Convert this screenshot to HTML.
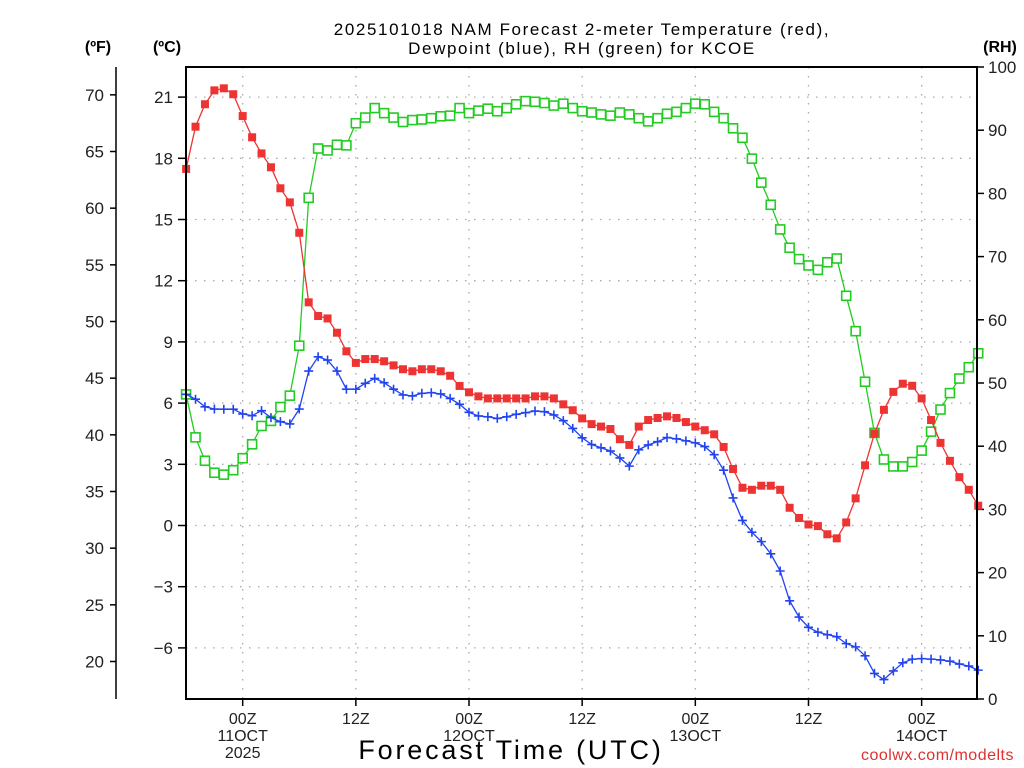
<!DOCTYPE html>
<html><head><meta charset="utf-8"><style>
body{margin:0;background:#fff;}
svg{display:block;font-family:"Liberation Sans",sans-serif;}
</style></head><body>
<svg id="chart" width="1024" height="768" viewBox="0 0 1024 768" xmlns="http://www.w3.org/2000/svg">
<rect width="1024" height="768" fill="#fff"/>
<text x="582" y="35" font-size="17" text-anchor="middle" fill="#000" letter-spacing="1.6">2025101018 NAM Forecast 2-meter Temperature (red),</text>
<text x="582" y="54" font-size="17" text-anchor="middle" fill="#000" letter-spacing="1.6">Dewpoint (blue), RH (green) for KCOE</text>
<text x="98" y="52" font-size="16" font-weight="bold" text-anchor="middle">(ºF)</text>
<text x="167" y="52" font-size="16" font-weight="bold" text-anchor="middle">(ºC)</text>
<text x="1000" y="52" font-size="16" font-weight="bold" text-anchor="middle">(RH)</text>
<text x="511" y="759" font-size="27" text-anchor="middle" letter-spacing="2.8">Forecast Time (UTC)</text>
<text x="1014" y="760" font-size="16" text-anchor="end" fill="#e03030" letter-spacing="0.5">coolwx.com/modelts</text>
<g id="grid"></g><g id="axes"></g><g id="series"></g>
<rect x="186" y="67" width="791" height="632" fill="none" stroke="#000" stroke-width="2"/>
</svg>
<script>
const tempC=[17.48,19.55,20.65,21.33,21.43,21.14,20.07,19.03,18.24,17.56,16.53,15.84,14.35,10.94,10.27,10.15,9.45,8.54,7.97,8.16,8.16,8.05,7.85,7.66,7.56,7.66,7.66,7.56,7.34,6.84,6.53,6.33,6.23,6.23,6.23,6.23,6.23,6.33,6.33,6.23,5.94,5.65,5.25,4.97,4.85,4.73,4.23,3.95,4.85,5.17,5.27,5.35,5.27,5.07,4.85,4.67,4.47,3.85,2.77,1.85,1.75,1.95,1.95,1.75,0.87,0.37,0.05,-0.03,-0.43,-0.63,0.15,1.33,2.95,4.51,5.67,6.55,6.95,6.85,6.23,5.17,4.05,3.17,2.37,1.75,0.97];
const dewC=[6.43,6.19,5.82,5.71,5.7,5.7,5.47,5.38,5.63,5.29,5.09,4.98,5.71,7.57,8.27,8.11,7.57,6.68,6.68,6.97,7.21,7.0,6.68,6.4,6.35,6.48,6.51,6.45,6.23,5.94,5.55,5.37,5.33,5.25,5.33,5.45,5.53,5.61,5.58,5.42,5.14,4.76,4.3,3.97,3.81,3.65,3.31,2.91,3.71,3.95,4.11,4.31,4.25,4.15,4.05,3.87,3.47,2.71,1.35,0.25,-0.33,-0.79,-1.39,-2.23,-3.69,-4.49,-4.99,-5.23,-5.35,-5.45,-5.79,-5.95,-6.39,-7.25,-7.55,-7.13,-6.73,-6.55,-6.53,-6.55,-6.59,-6.65,-6.79,-6.89,-7.09];
const rh=[48.2,41.4,37.7,35.8,35.5,36.2,38.1,40.3,43.2,44.0,46.2,48.0,55.9,79.3,87.1,86.8,87.7,87.6,91.1,92.0,93.5,92.7,92.0,91.3,91.6,91.7,91.9,92.2,92.3,93.5,92.7,93.1,93.4,93.0,93.5,94.1,94.6,94.5,94.3,93.9,94.2,93.5,93.0,92.8,92.5,92.3,92.8,92.5,91.9,91.4,91.9,92.6,92.9,93.5,94.2,94.1,92.9,91.9,90.3,88.8,85.5,81.7,78.2,74.3,71.4,69.6,68.6,67.9,69.1,69.7,63.8,58.2,50.2,42.1,37.9,36.8,36.8,37.5,39.3,42.3,45.8,48.4,50.7,52.5,54.7];
const cTicks=[-6,-3,0,3,6,9,12,15,18,21];
const fTicks=[20,25,30,35,40,45,50,55,60,65,70];
const rhTicks=[0,10,20,30,40,50,60,70,80,90,100];
const timeTickHours=[6,18,30,42,54,66,78];
const timeTickLabels=[["00Z","11OCT","2025"],["12Z"],["00Z","12OCT"],["12Z"],["00Z","13OCT"],["12Z"],["00Z","14OCT"]];

const NS="http://www.w3.org/2000/svg";
const X0=186.1,DX=9.43;
const xs=i=>X0+DX*i;
const yC=c=>525.5-20.4*c;
const yF=f=>yC((f-32)*5/9);
const yR=r=>699-6.32*r;
function mk(tag,attrs,parent,text){const e=document.createElementNS(NS,tag);for(const k in attrs)e.setAttribute(k,attrs[k]);if(text!==undefined)e.textContent=text;parent.appendChild(e);return e;}
const grid=document.getElementById('grid'),axes=document.getElementById('axes'),ser=document.getElementById('series');
const dash={stroke:"#aaa","stroke-width":1.3,"stroke-dasharray":"1.5,7.5"};
cTicks.forEach(c=>{const y=yC(c);
 const l=mk('line',Object.assign({x1:186,x2:977,y1:y,y2:y},dash),grid);
 
 
 const t=mk('line',{x1:178,x2:186,y1:y,y2:y,stroke:"#000","stroke-width":1.5},axes);
 
 
 const tx=mk('text',{x:173,y:y+6,"font-size":17,"text-anchor":"end",fill:"#222"},axes,c<0?"\u2212"+(-c):String(c));
 
 
});
const fl=mk('line',{x1:116,x2:116,y1:67,y2:699,stroke:"#000","stroke-width":1.5},axes);


fTicks.forEach(f=>{const y=yF(f);
 const t=mk('line',{x1:110,x2:116,y1:y,y2:y,stroke:"#000","stroke-width":1.5},axes);
 
 
 const tx=mk('text',{x:104,y:y+6,"font-size":17,"text-anchor":"end",fill:"#222"},axes,String(f));
 
 
});
rhTicks.forEach(r=>{const y=yR(r);
 const t=mk('line',{x1:977,x2:984,y1:y,y2:y,stroke:"#000","stroke-width":1.5},axes);
 
 
 const tx=mk('text',{x:988,y:y+6,"font-size":17,"text-anchor":"start",fill:"#222"},axes,String(r));
 
 
});
timeTickHours.forEach((h,k)=>{const x=xs(h);
 const l=mk('line',Object.assign({x1:x,x2:x,y1:67,y2:699},dash),grid);
 
 
 const t=mk('line',{x1:x,x2:x,y1:699,y2:706,stroke:"#000","stroke-width":1.5},axes);
 
 
 timeTickLabels[k].forEach((s,j)=>{
  const tx=mk('text',{x:x,y:724+j*17,"font-size":16,"text-anchor":"middle",fill:"#222"},axes,s);
  
  
 });
});
function series(vals,yf,color,name,marker){
 const g=mk('g',{},ser);
 
 
 const pts=vals.map((v,i)=>xs(i).toFixed(1)+","+yf(v).toFixed(1)).join(" ");
 const pl=mk('polyline',{points:pts,fill:"none",stroke:color,"stroke-width":1.3},g);
 
 
 vals.forEach((v,i)=>{const x=xs(i),y=yf(v);let m;
  if(marker==='fill')m=mk('rect',{x:x-4,y:y-4,width:8,height:8,fill:color},g);
  else if(marker==='open')m=mk('rect',{x:x-4.5,y:y-4.5,width:9,height:9,fill:"#fff",stroke:color,"stroke-width":1.6},g);
  else m=mk('path',{d:`M${x-4.5},${y}H${x+4.5}M${x},${y-4.5}V${y+4.5}`,stroke:color,"stroke-width":1.6,fill:"none"},g);
  
  
 });
}
series(rh,yR,"#22cc22","rh","open");
series(dewC,yC,"#2244ee","dewpoint","plus");
series(tempC,yC,"#ee3333","temperature","fill");
</script>
</body></html>
